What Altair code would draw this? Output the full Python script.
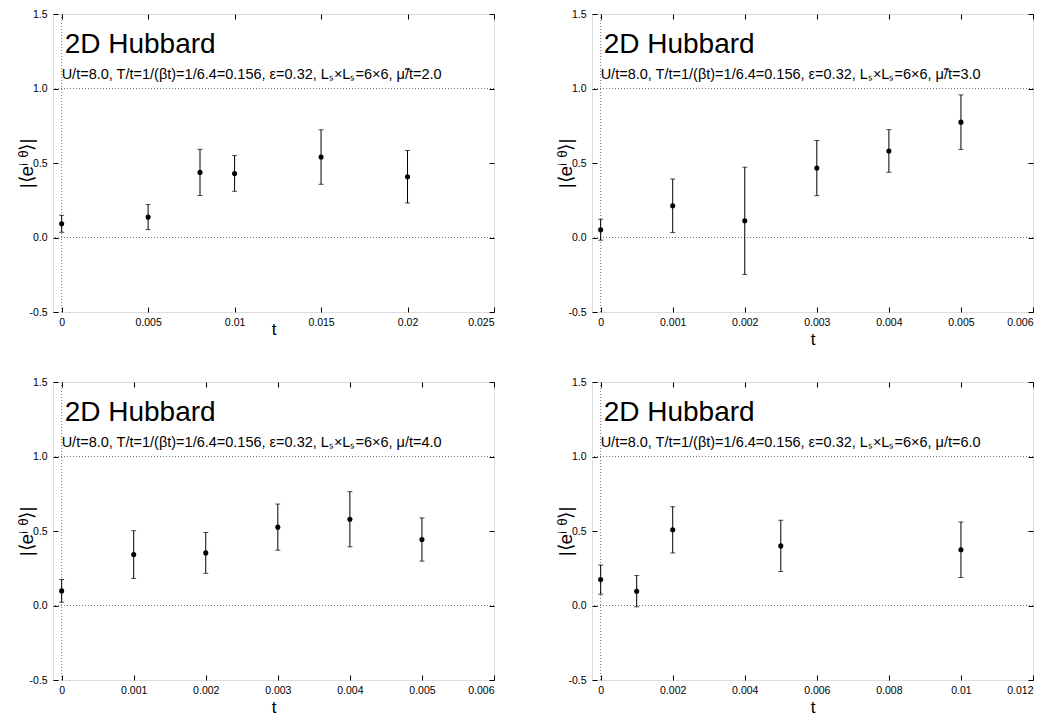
import altair as alt
import pandas as pd

FONT = "Liberation Sans"

# ---- data ----
p1_t = [0.0, 0.005, 0.008, 0.010, 0.015, 0.020]
p1_val = [0.092, 0.137, 0.437, 0.430, 0.540, 0.408]
p1_err = [0.057, 0.084, 0.155, 0.120, 0.183, 0.176]

p2_t = [0.0, 0.001, 0.002, 0.003, 0.004, 0.005]
p2_val = [0.052, 0.213, 0.112, 0.466, 0.581, 0.774]
p2_err = [0.070, 0.180, 0.360, 0.185, 0.143, 0.183]

p3_t = [0.0, 0.001, 0.002, 0.003, 0.004, 0.005]
p3_val = [0.098, 0.342, 0.353, 0.526, 0.579, 0.443]
p3_err = [0.076, 0.160, 0.137, 0.155, 0.185, 0.145]

p4_t = [0.0, 0.001, 0.002, 0.005, 0.010]
p4_val = [0.174, 0.096, 0.508, 0.400, 0.374]
p4_err = [0.098, 0.105, 0.155, 0.172, 0.186]

x_ticks_p1 = [0, 0.005, 0.01, 0.015, 0.02, 0.025]
x_ticks_p2 = [0, 0.001, 0.002, 0.003, 0.004, 0.005, 0.006]
x_ticks_p3 = [0, 0.001, 0.002, 0.003, 0.004, 0.005, 0.006]
x_ticks_p4 = [0, 0.002, 0.004, 0.006, 0.008, 0.01, 0.012]
y_ticks = [-0.5, 0.0, 0.5, 1.0, 1.5]
ref_lines_y = [0.0, 1.0]
ref_lines_x = [0.0]

x_domains = [[-0.0005, 0.025], [-0.00012, 0.006], [-0.00012, 0.006], [-0.00024, 0.012]]
y_domain = [-0.5, 1.5]

big_label = "2D Hubbard"
sub_labels = [
    "U/t=8.0, T/t=1/(\u03b2t)=1/6.4=0.156, \u03b5=0.32, L\u209b\u00d7L\u209b=6\u00d76, \u03bc\u0303/t=2.0",
    "U/t=8.0, T/t=1/(\u03b2t)=1/6.4=0.156, \u03b5=0.32, L\u209b\u00d7L\u209b=6\u00d76, \u03bc\u0303/t=3.0",
    "U/t=8.0, T/t=1/(\u03b2t)=1/6.4=0.156, \u03b5=0.32, L\u209b\u00d7L\u209b=6\u00d76, \u03bc/t=4.0",
    "U/t=8.0, T/t=1/(\u03b2t)=1/6.4=0.156, \u03b5=0.32, L\u209b\u00d7L\u209b=6\u00d76, \u03bc/t=6.0",
]
x_title = "t"
y_title = "|\u27e8e\u2071 \u1dbf\u27e9|"

W, H = 441, 298
TICK = 5


def panel(t, val, err, xticks, xdom, sub, t_title_y):
    df = pd.DataFrame({
        "t": t,
        "v": val,
        "lo": [a - b for a, b in zip(val, err)],
        "hi": [a + b for a, b in zip(val, err)],
    })
    xs = alt.Scale(domain=xdom, nice=False, zero=False)
    ys = alt.Scale(domain=y_domain, nice=False, zero=False)

    def xenc(field="t", axis=None):
        return alt.X(f"{field}:Q", scale=xs, axis=axis)

    def yenc(field, axis=None):
        return alt.Y(f"{field}:Q", scale=ys, axis=axis)

    hlines = alt.Chart(pd.DataFrame({"y": ref_lines_y})).mark_rule(
        color="#777", strokeWidth=1, strokeDash=[1, 2]
    ).encode(y=yenc("y"))
    vlines = alt.Chart(pd.DataFrame({"x": ref_lines_x})).mark_rule(
        color="#777", strokeWidth=1, strokeDash=[1, 2]
    ).encode(x=xenc("x"))

    base = alt.Chart(df)
    bars = base.mark_rule(color="black", strokeWidth=1).encode(
        x=xenc(), y=yenc("lo"), y2="hi:Q"
    )
    cap_lo = base.mark_tick(color="black", orient="horizontal", size=5, thickness=1).encode(
        x=xenc(), y=yenc("lo")
    )
    cap_hi = base.mark_tick(color="black", orient="horizontal", size=5, thickness=1).encode(
        x=xenc(), y=yenc("hi")
    )

    x_axis_bottom = alt.Axis(
        orient="bottom", values=xticks, format="~g", offset=-TICK, tickSize=TICK,
        tickColor="black", domain=False, grid=False, labelPadding=5,
        labelFont=FONT, labelFontSize=10.5, labelColor="black",
        title=x_title, titleFont=FONT, titleFontSize=17, titleFontWeight="normal",
        titleColor="black", titleY=t_title_y, titleBaseline="alphabetic",
    )
    y_axis_left = alt.Axis(
        orient="left", values=y_ticks, offset=-TICK, tickSize=TICK,
        tickColor="black", domain=False, grid=False, labelPadding=6,
        labelFont=FONT, labelFontSize=10.5, labelColor="black",
        labelExpr="datum.value < 0 ? '-' + format(-datum.value, '.1f') : format(datum.value, '.1f')",
        title=y_title, titleFont=FONT, titleFontSize=19, titleFontWeight="normal",
        titleColor="black", titleAngle=270, titleX=-32, titleY=H / 2,
        titleAlign="center", titleBaseline="middle",
    )
    points = base.mark_circle(color="black", size=26, opacity=1).encode(
        x=xenc(axis=x_axis_bottom), y=yenc("v", axis=y_axis_left)
    )

    x_axis_top = alt.Axis(
        orient="top", values=xticks, offset=-TICK, tickSize=TICK, tickColor="black",
        domain=False, grid=False, labels=False, title=None,
    )
    y_axis_right = alt.Axis(
        orient="right", values=y_ticks, offset=-TICK, tickSize=TICK, tickColor="black",
        domain=False, grid=False, labels=False, title=None,
    )
    mirror = base.mark_circle(opacity=0).encode(
        x=xenc(axis=x_axis_top), y=yenc("v", axis=y_axis_right)
    )

    big = alt.Chart(pd.DataFrame({"label": [big_label]})).mark_text(
        align="left", baseline="alphabetic", fontSize=28, font=FONT, color="black", dx=3
    ).encode(
        x=alt.XDatum(0, scale=xs, axis=None),
        y=alt.YDatum(1.24, scale=ys, axis=None),
        text="label:N",
    )
    small = alt.Chart(pd.DataFrame({"label": [sub]})).mark_text(
        align="left", baseline="alphabetic", fontSize=14.5, font=FONT, color="black"
    ).encode(
        x=alt.XDatum(0, scale=xs, axis=None),
        y=alt.YDatum(1.065, scale=ys, axis=None),
        text="label:N",
    )

    return alt.layer(
        hlines, vlines, bars, cap_lo, cap_hi, points, mirror, big, small
    ).resolve_axis(x="independent", y="independent").properties(width=W, height=H)


c1 = panel(p1_t, p1_val, p1_err, x_ticks_p1, x_domains[0], sub_labels[0], 27)
c2 = panel(p2_t, p2_val, p2_err, x_ticks_p2, x_domains[1], sub_labels[1], 37)
c3 = panel(p3_t, p3_val, p3_err, x_ticks_p3, x_domains[2], sub_labels[2], 37)
c4 = panel(p4_t, p4_val, p4_err, x_ticks_p4, x_domains[3], sub_labels[3], 37)

chart = alt.concat(
    c1, c2, c3, c4, columns=2, spacing={"row": 70, "column": 98}, bounds="flush"
).properties(
    padding={"left": 8, "top": 0, "right": 5, "bottom": 5}
).configure_view(
    stroke="black", strokeWidth=1
).configure(background="white")

chart.save("out.html", embed_options={"renderer": "svg", "actions": False})
